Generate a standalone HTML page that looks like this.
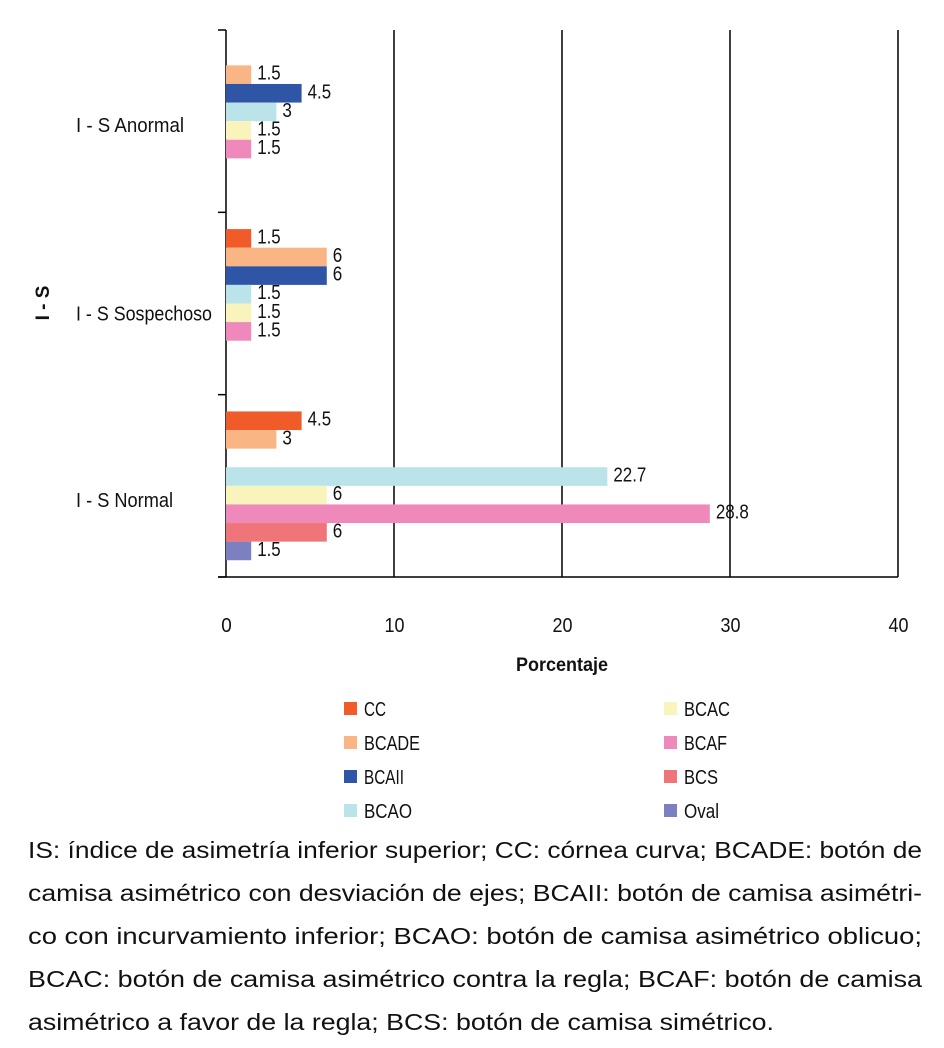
<!DOCTYPE html>
<html><head><meta charset="utf-8"><style>
body{margin:0;background:#fff;width:944px;height:1048px;overflow:hidden;font-family:"Liberation Sans",sans-serif;}
svg text{font-family:"Liberation Sans",sans-serif;fill:#111;}
</style></head><body>
<svg id="chart" width="944" height="1048" style="position:absolute;left:0;top:0">
<g font-size="23" fill="#111">
<text x="28" y="858" textLength="894" lengthAdjust="spacingAndGlyphs">IS: índice de asimetría inferior superior; CC: córnea curva; BCADE: botón de</text>
<text x="28" y="901" textLength="894" lengthAdjust="spacingAndGlyphs">camisa asimétrico con desviación de ejes; BCAII: botón de camisa asimétri-</text>
<text x="28" y="944" textLength="894" lengthAdjust="spacingAndGlyphs">co con incurvamiento inferior; BCAO: botón de camisa asimétrico oblicuo;</text>
<text x="28" y="987" textLength="894" lengthAdjust="spacingAndGlyphs">BCAC: botón de camisa asimétrico contra la regla; BCAF: botón de camisa</text>
<text x="28" y="1030" textLength="746" lengthAdjust="spacingAndGlyphs">asimétrico a favor de la regla; BCS: botón de camisa simétrico.</text>
</g>
</svg>
<script>
const categories = ["I - S Anormal", "I - S Sospechoso", "I - S Normal"];
const seriesNames = ["CC", "BCADE", "BCAII", "BCAO", "BCAC", "BCAF", "BCS", "Oval"];
const seriesColors = ["#f15a29", "#f9b583", "#2f56a6", "#bae4ea", "#f8f4bb", "#ef89bb", "#f07579", "#7c80c0"];
const valCC = [0, 1.5, 4.5];
const valBCADE = [1.5, 6, 3];
const valBCAII = [4.5, 6, 0];
const valBCAO = [3, 1.5, 22.7];
const valBCAC = [1.5, 1.5, 6];
const valBCAF = [1.5, 1.5, 28.8];
const valBCS = [0, 0, 6];
const valOval = [0, 0, 1.5];
const xTicks = [0, 10, 20, 30, 40];

const series = [valCC, valBCADE, valBCAII, valBCAO, valBCAC, valBCAF, valBCS, valOval];
const svg = document.getElementById('chart');
const NS = 'http://www.w3.org/2000/svg';
const X0 = 226, X1 = 898, Y0 = 30, Y1 = 577;
const xS = v => X0 + (v - 0) / 40 * (X1 - X0);
const band = (Y1 - Y0) / categories.length;
const barH = 18.6;
const catLen = [108, 136, 97];
const catDy = [11, 17, 21];
const legLen = [22, 56, 40, 48, 46, 43, 34, 35];
function numLen(s) { s = String(s); let w = 0; for (const ch of s) w += (ch === '.') ? 4.5 : 9.5; return w; }
function mk(tag, attrs, txt) {
  const e = document.createElementNS(NS, tag);
  for (const k in attrs) e.setAttribute(k, attrs[k]);
  if (txt !== undefined) e.textContent = txt;
  svg.appendChild(e);
  return e;
}
xTicks.forEach(t => {
  if (t > 0) {
    const g = mk('line', {x1: xS(t), x2: xS(t), y1: Y0, y2: Y1, stroke: '#000', 'stroke-width': 1.5});
    
    
  }
  const l = mk('text', {x: xS(t) - numLen(t) / 2, y: 632, 'font-size': 20, textLength: numLen(t) + 1, lengthAdjust: 'spacingAndGlyphs'}, t);
  
  
});
const ax = mk('line', {x1: X0, x2: X0, y1: Y0, y2: Y1, stroke: '#000', 'stroke-width': 1.5});


const bx = mk('line', {x1: X0 - 8, x2: X1, y1: Y1, y2: Y1, stroke: '#000', 'stroke-width': 1.5});


for (let i = 0; i <= categories.length; i++) {
  const tk = mk('line', {x1: X0 - 8, x2: X0, y1: Y0 + i * band, y2: Y0 + i * band, stroke: '#000', 'stroke-width': 1.5});
  
  
}
categories.forEach((c, ci) => {
  const cy = Y0 + (ci + 0.5) * band;
  const cl = mk('text', {x: 76, y: cy + catDy[ci], 'font-size': 20, textLength: catLen[ci], lengthAdjust: 'spacingAndGlyphs'}, c);
  
  
  const start = cy - barH * series.length / 2;
  series.forEach((arr, si) => {
    const v = arr[ci];
    if (!v) return;
    const y = start + si * barH;
    const r = mk('rect', {x: X0, y: y, width: xS(v) - X0, height: barH, fill: seriesColors[si]});
    
    
    const t = mk('text', {x: xS(v) + 6, y: y + barH / 2 + 5, 'font-size': 20, textLength: numLen(v), lengthAdjust: 'spacingAndGlyphs'}, v);
    
    
  });
});
const xt = mk('text', {x: 516, y: 671, 'font-size': 19, 'font-weight': 'bold', textLength: 92, lengthAdjust: 'spacingAndGlyphs'}, 'Porcentaje');


const yt = mk('text', {x: 0, y: 0, 'font-size': 19, 'font-weight': 'bold', 'text-anchor': 'middle', transform: 'translate(49,303) rotate(-90)'}, 'I - S');


seriesNames.forEach((n, i) => {
  const col = i < 4 ? 0 : 1, row = i % 4;
  const lx = col ? 664 : 344, ly = 708 + row * 34;
  const sq = mk('rect', {x: lx, y: ly - 6, width: 13, height: 13, fill: seriesColors[i]});
  
  
  const lt = mk('text', {x: lx + 20, y: ly + 8, 'font-size': 20, textLength: legLen[i], lengthAdjust: 'spacingAndGlyphs'}, n);
  
  
});
</script>
</body></html>
